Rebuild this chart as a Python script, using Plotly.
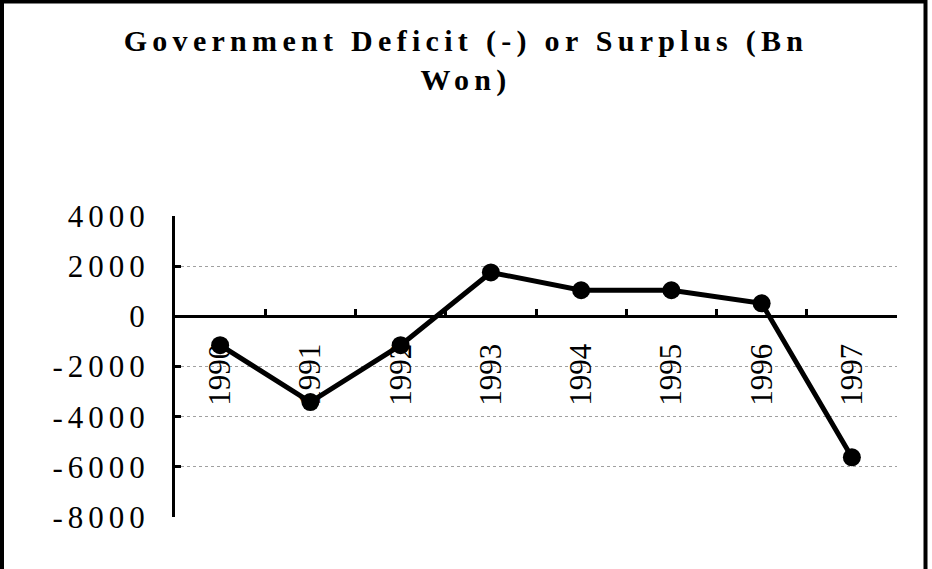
import plotly.graph_objects as go

# ---- data ----
years = ["1990", "1991", "1992", "1993", "1994", "1995", "1996", "1997"]
balance = [-1150, -3420, -1150, 1750, 1040, 1040, 520, -5620]
y_tick_values = [-8000, -6000, -4000, -2000, 0, 2000, 4000]
y_tick_labels = ["-8000", "-6000", "-4000", "-2000", "0", "2000", "4000"]
y_min, y_max = -8000, 4000
title_lines = ["Government Deficit (-) or Surplus (Bn", "Won)"]

# ---- layout geometry ----
W, H = 932, 569
ML, MR, MT, MB = 175, 35, 216, 52
pw = W - ML - MR
ph = H - MT - MB

serif = "Liberation Serif, Times New Roman, serif"


def spaced(s, px):
    return f'<span style="letter-spacing:{px}px">{s}</span>'


fig = go.Figure()
fig.add_trace(go.Scatter(
    x=years, y=balance, mode="lines+markers",
    line=dict(color="black", width=5),
    marker=dict(color="black", size=18),
    showlegend=False, hoverinfo="x+y",
))

fig.update_layout(
    width=W, height=H,
    margin=dict(l=ML, r=MR, t=MT, b=MB),
    paper_bgcolor="white", plot_bgcolor="white",
    title=dict(
        text="<br>".join(spaced(t, 5.3) for t in title_lines),
        font=dict(family=serif, size=30, color="black", weight="bold"),
        x=0.5, xref="container", xanchor="center",
        y=1 - 51 / H, yref="container", yanchor="top",
    ),
    xaxis=dict(
        type="category", range=[-0.5, len(years) - 0.5],
        anchor="free", position=(0 - y_min) / (y_max - y_min),
        showline=True, linecolor="black", linewidth=3,
        ticks="inside", ticklen=6, tickwidth=3, tickcolor="black",
        tickson="boundaries", tickangle=-90,
        tickfont=dict(family=serif, size=31, color="black"),
        ticklabelstandoff=13,
        showgrid=False, zeroline=False, layer="below traces",
    ),
    yaxis=dict(
        range=[y_min, y_max],
        tickvals=y_tick_values,
        ticktext=[spaced(t, 5) for t in y_tick_labels],
        showline=True, linecolor="black", linewidth=3,
        ticks="inside", ticklen=6, tickwidth=3, tickcolor="black",
        tickfont=dict(family=serif, size=31, color="black"),
        ticklabelstandoff=16,
        showgrid=True, gridcolor="#a0a0a0", gridwidth=1, griddash="dot",
        zeroline=False, layer="below traces",
    ),
    shapes=[dict(
        type="rect", xref="paper", yref="paper",
        x0=(2 - ML) / pw, x1=(925.5 - ML) / pw,
        y0=(H - MB - (H + 20)) / ph, y1=(H - MB - 1.5) / ph,
        line=dict(color="black", width=4), fillcolor="rgba(0,0,0,0)",
        layer="above",
    )],
)

fig.write_html(
    "out.html",
    config={"displayModeBar": False},
    post_script="document.body.style.margin='0';",
)
